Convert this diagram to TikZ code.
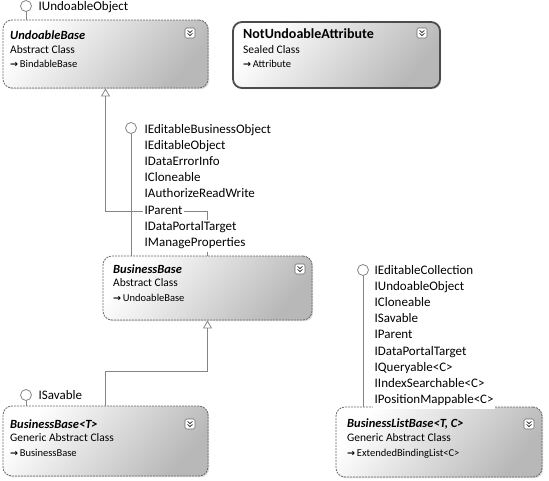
\documentclass[tikz,border=0pt]{standalone}
\usepackage{fontspec}
\setmainfont{Carlito}
\newfontfamily\symfont{DejaVu Sans}
\usetikzlibrary{positioning,arrows.meta,shadows}

\definecolor{wire}{gray}{0.52}
\definecolor{edge}{gray}{0.42}
\definecolor{ink}{gray}{0.12}

\newcommand{\ifacefont}{\fontsize{13}{15.8}\selectfont}
\newcommand{\inh}{{\symfont\bfseries\fontsize{9.5}{9.5}\selectfont →}\,}

% collapse button in the top right corner of a class box
\newcommand{\expander}[2]{%
  \node[expbtn] (#1) at (#2) {};
  \draw[expmark] ([shift={(-2.4pt,2.6pt)}]#1.center) -- ([shift={(0pt,0.4pt)}]#1.center) -- ([shift={(2.4pt,2.6pt)}]#1.center);
  \draw[expmark] ([shift={(-2.4pt,-0.4pt)}]#1.center) -- ([shift={(0pt,-2.6pt)}]#1.center) -- ([shift={(2.4pt,-0.4pt)}]#1.center);
}

\begin{document}
\begin{tikzpicture}[
  x=1pt, y=-1pt,
  font=\color{ink},
  classbox/.style={rectangle, rounded corners=9pt, draw=edge, line width=0.8pt, dash pattern=on 2pt off 1pt,
    top color=white, bottom color=black!28, shading angle=50,
    drop shadow={shadow xshift=1.2pt, shadow yshift=-1.2pt, opacity=0.3}},
  sealedbox/.style={classbox, solid, draw=black!70, line width=1.8pt},
  expbtn/.style={draw=edge, rounded corners=1.5pt, fill=white, minimum size=10pt, inner sep=0pt, line width=0.6pt},
  expmark/.style={draw=ink, line width=0.7pt},
  title/.style={anchor=west, inner sep=0pt, font=\fontsize{12.5}{14}\selectfont\bfseries\itshape},
  kind/.style={anchor=west, inner sep=0pt, font=\fontsize{11.5}{13}\selectfont},
  basecls/.style={anchor=west, inner sep=0pt, font=\fontsize{10.5}{12}\selectfont},
  lolly/.style={circle, draw=wire, fill=white, minimum size=11pt, inner sep=0pt, line width=0.8pt},
  stick/.style={draw=wire, line width=0.8pt},
  inherit/.style={draw=wire, line width=0.8pt, -{Triangle[open, width=9pt, length=8pt]}},
  ifname/.style={anchor=west, font=\ifacefont, fill=white, inner xsep=1.5pt, inner ysep=0pt, text height=10.5pt, text depth=5.3pt},
  ifnext/.style={ifname, below=0pt of #1.south west, anchor=north west}
]
\useasboundingbox (0,0) rectangle (549,480);

% class boxes
\node[classbox, minimum width=205pt, minimum height=68pt] (ub) at (105.5,54) {};
\node[sealedbox, minimum width=207pt, minimum height=66pt] (nua) at (336.5,55) {};
\node[classbox, minimum width=209pt, minimum height=64pt] (bb) at (207.5,288) {};
\node[classbox, minimum width=205pt, minimum height=70pt] (bbt) at (105.5,441) {};
\node[classbox, minimum width=206pt, minimum height=70pt] (blb) at (439,442) {};

% interface lollipops
\node[lolly] (ifUb) at (26,6) {};
\node[lolly] (ifBb) at (131,128) {};
\node[lolly] (ifSav) at (26,395) {};
\node[lolly] (ifBlb) at (363,270) {};

\draw[stick] (ifUb) -- (ifUb |- ub.north);
\draw[stick] (ifBb) -- (ifBb |- bb.north);
\draw[stick] (ifSav) -- (ifSav |- bbt.north);
\draw[stick] (ifBlb) -- (ifBlb |- blb.north);

% inheritance
\draw[inherit] (bb.north) -- ++(0,-44) -| (ub.south);
\draw[inherit] (bbt.north) -- ++(0,-34) -| (bb.south);

% interface names
\node[ifname] (ubIf1) at (37,7.5) {IUndoableObject};

\node[ifname] (bbIf1) at (143,130.5) {IEditableBusinessObject};
\node[ifnext=bbIf1] (bbIf2) {IEditableObject};
\node[ifnext=bbIf2] (bbIf3) {IDataErrorInfo};
\node[ifnext=bbIf3] (bbIf4) {ICloneable};
\node[ifnext=bbIf4] (bbIf5) {IAuthorizeReadWrite};
\node[ifnext=bbIf5] (bbIf6) {IParent};
\node[ifnext=bbIf6] (bbIf7) {IDataPortalTarget};
\node[ifnext=bbIf7] (bbIf8) {IManageProperties};

\node[ifname] (savIf1) at (37,396.5) {ISavable};

\node[ifname] (blbIf1) at (373,271.5) {IEditableCollection};
\node[ifnext=blbIf1] (blbIf2) {IUndoableObject};
\node[ifnext=blbIf2] (blbIf3) {ICloneable};
\node[ifnext=blbIf3] (blbIf4) {ISavable};
\node[ifnext=blbIf4] (blbIf5) {IParent};
\node[ifnext=blbIf5] (blbIf6) {IDataPortalTarget};
\node[ifnext=blbIf6] (blbIf7) {IQueryable<C>};
\node[ifnext=blbIf7] (blbIf8) {IIndexSearchable<C>};
\node[ifnext=blbIf8] (blbIf9) {IPositionMappable<C>};

% box contents
\node[title] (ubTitle) at (10,35) {UndoableBase};
\node[kind] (ubKind) at (10,50) {Abstract Class};
\node[basecls] (ubBase) at (10,64) {\inh BindableBase};
\expander{ubExp}{190,33}

\node[title, font=\fontsize{14}{16}\selectfont\bfseries] (nuaTitle) at (243,34) {NotUndoableAttribute};
\node[kind] (nuaKind) at (243,50) {Sealed Class};
\node[basecls] (nuaBase) at (243,64) {\inh Attribute};
\expander{nuaExp}{422,33}

\node[title] (bbTitle) at (113,269) {BusinessBase};
\node[kind] (bbKind) at (113,283) {Abstract Class};
\node[basecls] (bbBase) at (113,298) {\inh UndoableBase};
\expander{bbExp}{300,269}

\node[title] (bbtTitle) at (10,424) {BusinessBase<T>};
\node[kind] (bbtKind) at (10,438) {Generic Abstract Class};
\node[basecls] (bbtBase) at (10,453) {\inh BusinessBase};
\expander{bbtExp}{190,424}

\node[title] (blbTitle) at (347,424) {BusinessListBase<T, C>};
\node[kind] (blbKind) at (347,438) {Generic Abstract Class};
\node[basecls] (blbBase) at (347,454) {\inh ExtendedBindingList<C>};
\expander{blbExp}{529,424}
\end{tikzpicture}
\end{document}
